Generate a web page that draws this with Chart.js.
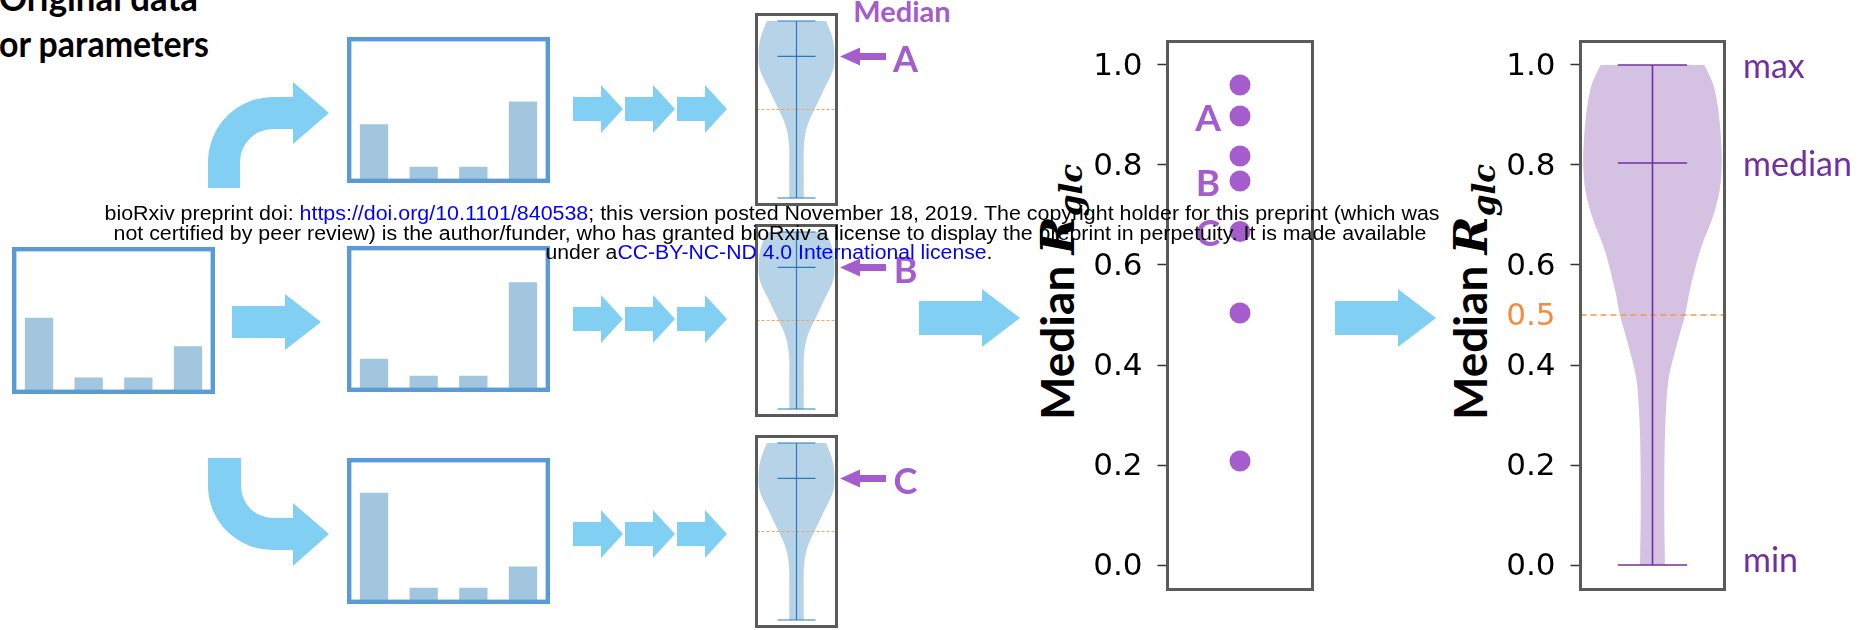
<!DOCTYPE html>
<html>
<head>
<meta charset="utf-8">
<script src="https://cdn.jsdelivr.net/npm/chart.js@4.4.1/dist/chart.umd.min.js"></script>
<style>
  html, body { margin: 0; padding: 0; background: #ffffff; }
  body { width: 1864px; height: 630px; position: relative; overflow: hidden; }
  canvas, svg { position: absolute; }
</style>
</head>
<body>
<svg id="under" width="1864" height="630" style="left:0;top:0">
  <text x="-1" y="11" font-family="Lato" font-weight="700" font-size="36" textLength="199" lengthAdjust="spacingAndGlyphs">Original data</text>
  <text x="-1" y="57" font-family="Lato" font-weight="700" font-size="36" textLength="210" lengthAdjust="spacingAndGlyphs">or parameters</text>
  <text x="902" y="22" text-anchor="middle" font-family="Lato" font-weight="700" font-size="29" fill="#a55ccd">Median</text>
  <text transform="translate(1074,292) rotate(-90)" text-anchor="middle" font-family="Lato" font-weight="700" font-size="46">Median <tspan font-family="DejaVu Serif" font-style="italic">R</tspan><tspan font-family="DejaVu Serif" font-style="italic" font-size="31" dy="8">glc</tspan></text>
  <text transform="translate(1487,292) rotate(-90)" text-anchor="middle" font-family="Lato" font-weight="700" font-size="46">Median <tspan font-family="DejaVu Serif" font-style="italic">R</tspan><tspan font-family="DejaVu Serif" font-style="italic" font-size="31" dy="8">glc</tspan></text>
  <g id="arrows" fill="#81cff2">
    <path d="M208,188 L208,162 A65,65 0 0 1 273,97 L293,97 L293,82 L329,113 L293,144 L293,129 L273,129 A33,33 0 0 0 240,162 L240,188 Z"/>
    <path d="M208,458 L208,486 A65,64 0 0 0 273,550 L293,550 L293,566 L329,534 L293,503 L293,518 L273,518 A32,32 0 0 1 241,486 L241,458 Z"/>
  </g>
</svg>

<canvas id="barsOrig"  width="203" height="147" style="left:12px;top:247px"></canvas>
<canvas id="barsA"     width="203" height="146" style="left:347px;top:37px"></canvas>
<canvas id="barsB"     width="203" height="146" style="left:347px;top:246px"></canvas>
<canvas id="barsC"     width="203" height="146" style="left:347px;top:458px"></canvas>
<canvas id="runA"      width="200" height="193" style="left:755px;top:13px"></canvas>
<canvas id="runB"      width="200" height="193" style="left:755px;top:224px"></canvas>
<canvas id="runC"      width="200" height="193" style="left:755px;top:435px"></canvas>
<canvas id="medians"   width="234" height="551" style="left:1080px;top:40px"></canvas>
<canvas id="summary"   width="371" height="551" style="left:1493px;top:40px"></canvas>

<svg id="over" width="1864" height="630" style="left:0;top:0;pointer-events:none">
  <g font-family="Liberation Sans, Arial, sans-serif" font-size="19.5" fill="#000">
    <text x="772" y="220" text-anchor="middle" textLength="1335" lengthAdjust="spacingAndGlyphs">bioRxiv preprint doi: <tspan fill="#0000ff">https://doi.org/10.1101/840538</tspan>; this version posted November 18, 2019. The copyright holder for this preprint (which was</text>
    <text x="770" y="240" text-anchor="middle" textLength="1313" lengthAdjust="spacingAndGlyphs">not certified by peer review) is the author/funder, who has granted bioRxiv a license to display the preprint in perpetuity. It is made available</text>
    <text x="769" y="259" text-anchor="middle" textLength="447" lengthAdjust="spacingAndGlyphs">under a<tspan fill="#0000ff">CC-BY-NC-ND 4.0 International license</tspan>.</text>
  </g>
</svg>

<script>
// ---- input panels: four parameter bars each ----
const barCategories = ['p1', 'p2', 'p3', 'p4'];
const barsOriginal = [5.2, 1.0, 1.0, 3.2];
const barsRunA = [4.0, 1.0, 1.0, 5.6];
const barsRunB = [2.2, 1.0, 1.0, 7.6];
const barsRunC = [7.7, 1.0, 1.0, 2.5];

// ---- R_glc distribution of a single run (relative density width per level) ----
const runLevels = [0, 0.15, 0.27, 0.33, 0.38, 0.44, 0.50, 0.57, 0.63, 0.685, 0.74, 0.80, 0.87, 0.93, 1.0];
const runWidths = [0.19, 0.19, 0.19, 0.21, 0.25, 0.34, 0.47, 0.63, 0.76, 0.89, 0.98, 1.0, 0.98, 0.91, 0.78];
const runMin = 0.0;
const runMedian = 0.80;
const runMax = 1.0;

// ---- median R_glc of every run ----
const runMedians = [0.960, 0.898, 0.818, 0.768, 0.667, 0.504, 0.208];
const runTags = ['', 'A', '', 'B', 'C', '', ''];
const medianTicks = [0, 0.2, 0.4, 0.6, 0.8, 1.0];

// ---- distribution of the run medians ----
const summaryLevels = [0, 0.11, 0.26, 0.37, 0.44, 0.50, 0.55, 0.63, 0.70, 0.75, 0.80, 0.85, 0.91, 0.96, 1.0];
const summaryWidths = [0.18, 0.17, 0.18, 0.23, 0.35, 0.47, 0.54, 0.69, 0.88, 0.97, 1.0, 0.99, 0.95, 0.88, 0.75];
const summaryMin = 0.0;
const summaryMedian = 0.804;
const summaryMax = 1.0;
const summaryTicks = [0, 0.2, 0.4, 0.5, 0.6, 0.8, 1.0];
const threshold = 0.5;
const summaryNotes = ['max', 'median', 'min'];

// ---- styling ----
const BAR_FILL = '#a3c6df';
const BOX_BLUE = '#5b9bd5';
const FRAME_GRAY = '#5a5a5a';
const PURPLE = '#a55ccd';
const DARK_PURPLE = '#7030a0';
const ORANGE = '#f58b3f';
const CAP = 0.5;

Chart.defaults.animation = false;
Chart.defaults.events = [];
Chart.defaults.font.family = 'Lato';
Chart.defaults.layout.autoPadding = false;
Chart.defaults.plugins.legend.display = false;
Chart.defaults.plugins.tooltip.enabled = false;

// straight block arrows between the panels
(function () {
  const g = document.getElementById('arrows');
  const flat = (x0, x1, cy, sh, hh, hl) => {
    const xb = x1 - hl;
    return `${x0},${cy - sh} ${xb},${cy - sh} ${xb},${cy - hh} ${x1},${cy} ${xb},${cy + hh} ${xb},${cy + sh} ${x0},${cy + sh}`;
  };
  const shapes = [flat(232, 321, 322, 16, 28, 36), flat(919, 1020, 318, 17, 29, 38), flat(1335, 1436, 318, 17, 29, 38)];
  [109, 319, 534].forEach(cy => {
    [573, 625, 677].forEach(x0 => shapes.push(flat(x0, x0 + 50, cy, 12, 24, 22)));
  });
  shapes.forEach(pts => {
    const p = document.createElementNS('http://www.w3.org/2000/svg', 'polygon');
    p.setAttribute('points', pts);
    g.appendChild(p);
  });
})();

// rectangle round the plot area
const frame = (color, width) => ({
  id: 'frame',
  afterDraw(chart) {
    const { ctx, chartArea: a } = chart;
    ctx.save();
    ctx.strokeStyle = color;
    ctx.lineWidth = width;
    ctx.strokeRect(a.left, a.top, a.right - a.left, a.bottom - a.top);
    ctx.restore();
  }
});

function barPanel(id, values) {
  new Chart(document.getElementById(id), {
    type: 'bar',
    data: {
      labels: barCategories,
      datasets: [{ data: values, backgroundColor: BAR_FILL, barPercentage: 0.57, categoryPercentage: 1 }]
    },
    options: {
      responsive: false,
      devicePixelRatio: 1,
      layout: { padding: 2.2 },
      scales: { x: { display: false }, y: { display: false, min: 0, max: 10 } }
    },
    plugins: [frame(BOX_BLUE, 4.4)]
  });
}

barPanel('barsOrig', barsOriginal);
barPanel('barsA', barsRunA);
barPanel('barsB', barsRunB);
barPanel('barsC', barsRunC);

// closed outline of a violin: up the left side, across the flat top
// (corner points repeated so the curve keeps sharp corners), down the right side
function violinOutline(levels, widths) {
  const left = levels.map((y, i) => ({ x: -widths[i], y }));
  const right = levels.map((y, i) => ({ x: widths[i], y })).reverse();
  const top = levels.length - 1;
  left.push({ x: -widths[top], y: levels[top] });
  right.unshift({ x: widths[top], y: levels[top] });
  return left.concat(right);
}

function violinDatasets(levels, widths, lo, mid, hi, st) {
  const seg = (a, b) => ({
    data: [a, b], borderColor: st.line, borderWidth: st.lineWidth,
    pointRadius: 0, fill: false, order: 1
  });
  return [
    seg({ x: 0, y: lo }, { x: 0, y: hi }),
    seg({ x: -CAP, y: lo }, { x: CAP, y: lo }),
    seg({ x: -CAP, y: hi }, { x: CAP, y: hi }),
    seg({ x: -CAP, y: mid }, { x: CAP, y: mid }),
    {
      data: [{ x: -st.xHalf, y: threshold }, { x: st.xHalf, y: threshold }],
      borderColor: st.dashColor, borderWidth: st.dashWidth, borderDash: st.dash,
      pointRadius: 0, fill: false, order: 2
    },
    {
      data: violinOutline(levels, widths),
      backgroundColor: st.fill, borderWidth: 0, pointRadius: 0,
      fill: 'shape', tension: 0.3, order: 3
    }
  ];
}

// arrow and letter pointing at the median of one run
const medianPointer = tag => ({
  id: 'medianPointer',
  afterDraw(chart) {
    const { ctx, chartArea: a, scales: { y } } = chart;
    const py = y.getPixelForValue(runMedian);
    const tip = a.right + 3.5;
    ctx.save();
    ctx.fillStyle = PURPLE;
    ctx.beginPath();
    ctx.moveTo(tip, py);
    ctx.lineTo(tip + 20, py - 9);
    ctx.lineTo(tip + 20, py - 3.5);
    ctx.lineTo(tip + 46, py - 3.5);
    ctx.lineTo(tip + 46, py + 3.5);
    ctx.lineTo(tip + 20, py + 3.5);
    ctx.lineTo(tip + 20, py + 9);
    ctx.closePath();
    ctx.fill();
    ctx.font = '700 36px Lato';
    ctx.textAlign = 'center';
    ctx.textBaseline = 'middle';
    ctx.fillText(tag, a.right + 69, py + 3.5);
    ctx.restore();
  }
});

function runViolin(id, tag) {
  const xHalf = 1.053;
  new Chart(document.getElementById(id), {
    type: 'line',
    data: {
      datasets: violinDatasets(runLevels, runWidths, runMin, runMedian, runMax, {
        line: '#2a7ab9', lineWidth: 1.2, fill: '#b7d3e7',
        dashColor: '#f4a460', dashWidth: 1, dash: [3, 2], xHalf
      })
    },
    options: {
      responsive: false,
      devicePixelRatio: 1,
      layout: { padding: { left: 1.5, top: 1.5, bottom: 1.5, right: 118.5 } },
      scales: {
        x: { type: 'linear', display: false, min: -xHalf, max: xHalf },
        y: { type: 'linear', display: false, min: -0.0367, max: 1.0367 }
      }
    },
    plugins: [frame(FRAME_GRAY, 3), medianPointer(tag)]
  });
}

runViolin('runA', 'A');
runViolin('runB', 'B');
runViolin('runC', 'C');

// shared value axis of the two right panels
function valueAxis(ticks) {
  return {
    type: 'linear',
    min: -0.049,
    max: 1.047,
    afterBuildTicks: s => { s.ticks = ticks.map(v => ({ value: v })); },
    afterFit: s => { s.width = 87.5; s.paddingTop = 0; s.paddingBottom = 0; },
    border: { display: false },
    grid: {
      drawOnChartArea: false,
      drawTicks: true,
      tickLength: 10,
      tickWidth: 1.5,
      tickColor: c => (c.tick && c.tick.value === threshold ? 'rgba(0,0,0,0)' : '#333333')
    },
    ticks: {
      padding: 15,
      labelOffset: 1.5,
      font: { family: 'DejaVu Sans', size: 31 },
      color: c => (c.tick && c.tick.value === threshold ? ORANGE : '#000000'),
      callback: v => Number(v).toFixed(1)
    }
  };
}

// letters next to the runs that are shown on the left
const tagPlugin = {
  id: 'runTags',
  afterDatasetsDraw(chart) {
    const { ctx, scales: { x, y } } = chart;
    ctx.save();
    ctx.fillStyle = PURPLE;
    ctx.font = '700 37px Lato';
    ctx.textAlign = 'center';
    ctx.textBaseline = 'middle';
    runMedians.forEach((v, i) => {
      if (runTags[i]) ctx.fillText(runTags[i], x.getPixelForValue(0) - 32, y.getPixelForValue(v) + 3);
    });
    ctx.restore();
  }
};

new Chart(document.getElementById('medians'), {
  type: 'scatter',
  data: {
    datasets: [{
      data: runMedians.map(v => ({ x: 0, y: v })),
      backgroundColor: PURPLE, borderWidth: 0, pointRadius: 10.5
    }]
  },
  options: {
    responsive: false,
    devicePixelRatio: 1,
    layout: { autoPadding: false, padding: { left: 0, top: 1.5, bottom: 1.5, right: 1.5 } },
    scales: {
      x: { type: 'linear', display: false, min: -1, max: 1 },
      y: valueAxis(medianTicks)
    }
  },
  plugins: [frame(FRAME_GRAY, 3), tagPlugin]
});

// max / median / min notes right of the summary violin
const notePlugin = {
  id: 'summaryNotes',
  afterDraw(chart) {
    const { ctx, chartArea: a, scales: { y } } = chart;
    const vals = [summaryMax, summaryMedian, summaryMin];
    const shift = [2, 2, -4];
    ctx.save();
    ctx.fillStyle = DARK_PURPLE;
    ctx.font = '34px Lato';
    ctx.textAlign = 'left';
    ctx.textBaseline = 'middle';
    summaryNotes.forEach((t, i) => ctx.fillText(t, a.right + 18.5, y.getPixelForValue(vals[i]) + shift[i]));
    ctx.restore();
  }
};

(function () {
  const xHalf = 1.039;
  new Chart(document.getElementById('summary'), {
    type: 'line',
    data: {
      datasets: violinDatasets(summaryLevels, summaryWidths, summaryMin, summaryMedian, summaryMax, {
        line: DARK_PURPLE, lineWidth: 1.6, fill: '#d5c2e3',
        dashColor: '#f79646', dashWidth: 1.5, dash: [6, 4], xHalf
      })
    },
    options: {
      responsive: false,
      devicePixelRatio: 1,
      layout: { padding: { left: 0, top: 1.5, bottom: 1.5, right: 139.5 } },
      scales: {
        x: { type: 'linear', display: false, min: -xHalf, max: xHalf },
        y: valueAxis(summaryTicks)
      }
    },
    plugins: [frame(FRAME_GRAY, 3), notePlugin]
  });
})();
</script>
</body>
</html>
